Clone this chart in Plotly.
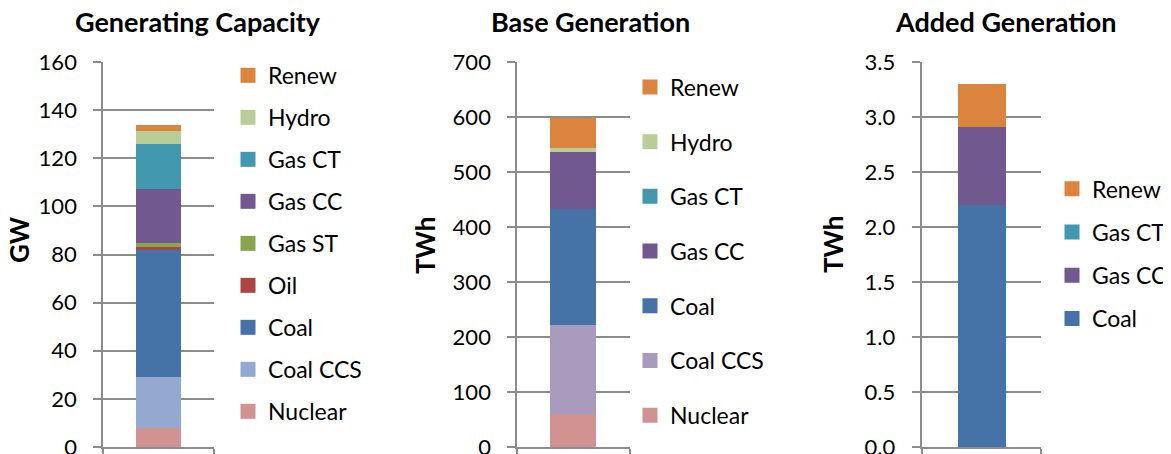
import plotly.graph_objects as go

# ---------------- data ----------------
cap_series = ["Nuclear", "Coal CCS", "Coal", "Oil", "Gas ST", "Gas CC", "Gas CT", "Hydro", "Renew"]
cap_values = [8, 21, 53, 1, 1.7, 22.5, 18.7, 5.4, 2.5]
cap_colors = ["#D19392", "#93A9CF", "#4572A7", "#AA4643", "#89A54E", "#71588F", "#4198AF", "#B9CD96", "#DB843D"]

base_series = ["Nuclear", "Coal CCS", "Coal", "Gas CC", "Gas CT", "Hydro", "Renew"]
base_values = [60, 162, 210, 105, 0, 7.5, 53]
base_colors = ["#D19392", "#A99BBD", "#4572A7", "#71588F", "#4198AF", "#B9CD96", "#DB843D"]

add_series = ["Coal", "Gas CC", "Gas CT", "Renew"]
add_values = [2.2, 0.71, 0, 0.39]
add_colors = ["#4572A7", "#71588F", "#4198AF", "#DB843D"]

titles = ["Generating Capacity", "Base Generation", "Added Generation"]
ytitles = ["GW", "TWh", "TWh"]
yranges = [[0, 160], [0, 700], [0, 3.5]]
ydticks = [20, 100, 0.5]
ytickformats = ["d", "d", ".1f"]

# ---------------- layout helpers ----------------
# the page body adds an 8px margin, so positions are given in page pixels
# and shifted by OFF into figure pixels
OFF = 8
W, H = 1171, 454
PLOT_TOP, PLOT_BOT = 62.3 - OFF, 446.7 - OFF
T, B = PLOT_TOP, H - PLOT_BOT
PH = PLOT_BOT - PLOT_TOP


def px_x(x):
    return (x - OFF) / W


def px_y(y):
    return (PLOT_BOT - (y - OFF)) / PH


FONT = "Lato, 'Open Sans', sans-serif"
GRID = "#8C8C8C"
TXT = "#000000"

domains = [(103.3, 214.0), (517.3, 630.0), (921.7, 1041.0)]
legend_left = [228, 630, 1052]
legend_top = [54.2, 65.8, 167.5]  # page pixels
legend_gaps = [9.1, 21.8, 10.3]
title_x = [197.5, 590.5, 1005.0]
title_y = 22
ytitle_pos = [(19, 239), (425, 246), (833, 245)]
bar_width = [0.41, 0.41, 0.40]

panels = [
    (cap_series, cap_values, cap_colors),
    (base_series, base_values, base_colors),
    (add_series, add_values, add_colors),
]

fig = go.Figure()
legend_keys = ["legend", "legend2", "legend3"]

for i, (series, values, colors) in enumerate(panels):
    xa = "x" if i == 0 else f"x{i + 1}"
    ya = "y" if i == 0 else f"y{i + 1}"
    for name, val, col in zip(series, values, colors):
        fig.add_trace(go.Bar(
            x=[0], y=[val], name=name, marker=dict(color=col, line=dict(width=0)),
            width=bar_width[i], xaxis=xa, yaxis=ya, showlegend=False,
            hovertemplate=name + ": %{y}<extra></extra>",
        ))
    # legend entries, listed top (last series) to bottom (first series)
    for name, col in zip(series[::-1], colors[::-1]):
        fig.add_trace(go.Scatter(
            x=[None], y=[None], mode="markers", name=name,
            marker=dict(symbol="square", size=15, color=col, line=dict(width=0)),
            xaxis=xa, yaxis=ya, legend=legend_keys[i],
            legendgroup=f"{legend_keys[i]}_{name}", showlegend=True,
        ))

layout = dict(
    width=W, height=H,
    margin=dict(l=0, r=0, t=T, b=B, pad=0),
    paper_bgcolor="white", plot_bgcolor="white",
    barmode="stack", bargap=0,
    font=dict(family=FONT, size=22, color=TXT),
    showlegend=True,
)

annotations = []
for i in range(3):
    sx = "" if i == 0 else str(i + 1)
    d0, d1 = domains[i]
    layout[f"xaxis{sx}"] = dict(
        domain=[px_x(d0), px_x(d1)], range=[-0.5, 0.5], anchor=f"y{sx}",
        showgrid=False, zeroline=False, showline=True, linecolor=GRID, linewidth=2,
        ticks="outside", tickvals=[-0.5, 0.5], ticklen=7, tickwidth=2, tickcolor=GRID,
        showticklabels=False, fixedrange=True,
    )
    layout[f"yaxis{sx}"] = dict(
        domain=[0, 1], range=yranges[i], anchor=f"x{sx}", dtick=ydticks[i],
        tickformat=ytickformats[i],
        showgrid=True, gridcolor=GRID, gridwidth=2, zeroline=False,
        showline=True, linecolor=GRID, linewidth=2,
        ticks="outside", ticklen=8, tickwidth=2, tickcolor=GRID,
        ticklabelstandoff=12, ticklabeloverflow="allow",
        tickfont=dict(family=FONT, size=22, color=TXT), fixedrange=True,
    )
    layout[legend_keys[i]] = dict(
        x=px_x(legend_left[i]), xanchor="left",
        y=px_y(legend_top[i]), yanchor="top",
        traceorder="grouped", tracegroupgap=legend_gaps[i],
        font=dict(family=FONT, size=23, color=TXT),
        bgcolor="rgba(0,0,0,0)", borderwidth=0, maxheight=2000,
        itemclick=False, itemdoubleclick=False,
    )
    annotations.append(dict(
        text=f"<b>{titles[i]}</b>", x=px_x(title_x[i]), y=px_y(title_y),
        xref="paper", yref="paper", xanchor="center", yanchor="middle",
        showarrow=False, font=dict(family=FONT, size=27, color=TXT),
    ))
    tx, ty = ytitle_pos[i]
    annotations.append(dict(
        text=f"<b>{ytitles[i]}</b>", x=px_x(tx), y=px_y(ty),
        xref="paper", yref="paper", xanchor="center", yanchor="middle",
        textangle=-90, showarrow=False, font=dict(family=FONT, size=26, color=TXT),
    ))

layout["annotations"] = annotations
fig.update_layout(**layout)
fig.write_html("out.html")
